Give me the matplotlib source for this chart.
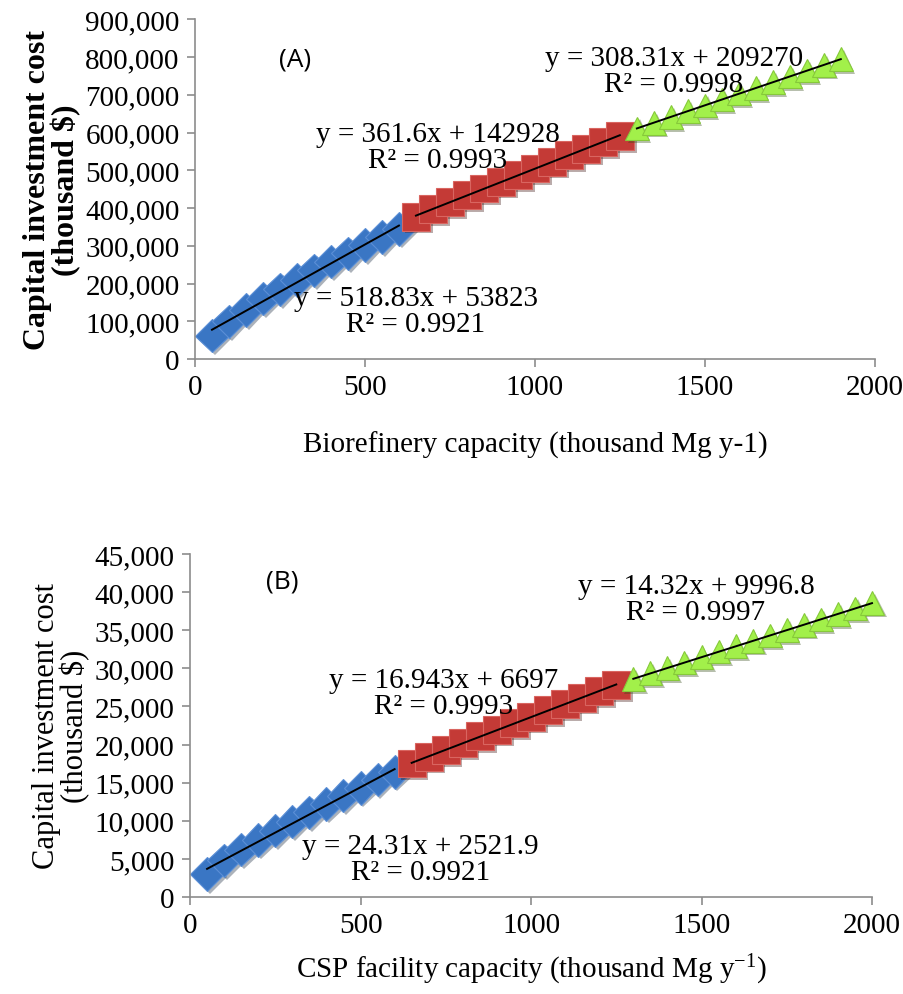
import matplotlib.pyplot as plt
import matplotlib.patheffects as pe
import numpy as np

plt.rcParams['font.family'] = ['Liberation Serif', 'DejaVu Serif']
plt.rcParams['mathtext.fontset'] = 'custom'
plt.rcParams['mathtext.rm'] = 'Liberation Serif'
plt.rcParams['mathtext.default'] = 'regular'

# panel A: biorefinery
a_blue_x = [50, 100, 150, 200, 250, 300, 350, 400, 450, 500, 550, 600]
a_blue_y = [62000, 100000, 130000, 160000, 185000, 210000, 235000, 258000, 280000, 302000, 323000, 345000]
a_red_x = [650, 700, 750, 800, 850, 900, 950, 1000, 1050, 1100, 1150, 1200, 1250]
a_red_y = [377000, 397000, 416000, 434000, 452000, 470000, 488000, 505000, 523000, 540000, 557000, 574000, 591000]
a_green_x = [1300, 1350, 1400, 1450, 1500, 1550, 1600, 1650, 1700, 1750, 1800, 1850, 1900]
a_green_y = [611000, 626000, 641000, 657000, 672000, 687000, 703000, 718000, 733000, 748000, 764000, 779000, 794000]
a_labels = ["y = 518.83x + 53823\nR² = 0.9921",
            "y = 361.6x + 142928\nR² = 0.9993",
            "y = 308.31x + 209270\nR² = 0.9998"]

# panel B: CSP facility
b_blue_x = [50, 100, 150, 200, 250, 300, 350, 400, 450, 500, 550, 600]
b_blue_y = [3000, 4800, 6200, 7500, 8700, 9900, 11100, 12200, 13300, 14300, 15400, 16400]
b_red_x = [650, 700, 750, 800, 850, 900, 950, 1000, 1050, 1100, 1150, 1200, 1250]
b_red_y = [17500, 18400, 19300, 20200, 21100, 21950, 22800, 23650, 24500, 25300, 26150, 27000, 27800]
b_green_x = [1300, 1350, 1400, 1450, 1500, 1550, 1600, 1650, 1700, 1750, 1800, 1850, 1900, 1950, 2000]
b_green_y = [28600, 29350, 30050, 30750, 31450, 32200, 32900, 33600, 34300, 35000, 35700, 36400, 37100, 37850, 38600]
b_labels = ["y = 24.31x + 2521.9\nR² = 0.9921",
            "y = 16.943x + 6697\nR² = 0.9993",
            "y = 14.32x + 9996.8\nR² = 0.9997"]

styles = [
    dict(marker='D', ms=17, mfc='#3A76C4', mec='#5B8FD6', mew=0.8),
    dict(marker='s', ms=20, mfc='#C43A36', mec='#D96560', mew=0.8),
    dict(marker='^', ms=17, mfc='#A2F04A', mec='#86C93A', mew=0.8),
]
shadow = [pe.SimplePatchShadow(offset=(2, -2), alpha=0.35), pe.Normal()]


def draw_panel(ax, series, labels, label_pos, ymax, ystep, xlabel, ylabel, bold, tag, tag_pos, xpad):
    for (x, y), st in zip(series, styles):
        ax.plot(x, y, ls='none', path_effects=shadow, zorder=2, clip_on=False, **st)
    for (x, y) in series:
        k, b = np.polyfit(x, y, 1)
        xs = np.array([x[0], x[-1]])
        ax.plot(xs, k * xs + b, color='black', lw=1.4, zorder=3, clip_on=False)
    for txt, (tx, ty) in zip(labels, label_pos):
        ax.text(tx, ty, txt, ha='center', va='center', multialignment='center',
                fontsize=21, linespacing=1.0, zorder=4)
    ax.text(tag_pos[0], tag_pos[1], tag, ha='center', va='center',
            fontsize=19, family=['Open Sans', 'DejaVu Sans'])
    ax.set_xlim(0, 2000)
    ax.set_ylim(0, ymax)
    ax.set_xticks([0, 500, 1000, 1500, 2000])
    ax.set_yticks(np.arange(0, ymax + 1, ystep))
    ax.yaxis.set_major_formatter(plt.FuncFormatter(lambda v, p: f"{int(v):,}"))
    for s in ['top', 'right']:
        ax.spines[s].set_visible(False)
    for s in ['left', 'bottom']:
        ax.spines[s].set_color('#8C8C8C')
        ax.spines[s].set_linewidth(1.2)
    ax.tick_params(axis='both', direction='out', length=6, color='#8C8C8C', width=1.2,
                   labelsize=21, pad=5)
    ax.set_xlabel(xlabel, fontsize=21, labelpad=xpad)
    ax.set_ylabel(ylabel, fontsize=23 if bold else 22, fontweight='bold' if bold else 'normal',
                  linespacing=0.95, labelpad=3)


fig = plt.figure(figsize=(9.04, 9.95), dpi=100)
ax1 = fig.add_axes([0.2157, 0.638, 0.752, 0.3417])
ax2 = fig.add_axes([0.2102, 0.0975, 0.7544, 0.3447])

draw_panel(ax1, [(a_blue_x, a_blue_y), (a_red_x, a_red_y), (a_green_x, a_green_y)],
           a_labels, [(650, 127000), (715, 561000), (1409, 762000)],
           900000, 100000, "Biorefinery capacity (thousand Mg y-1)",
           "Capital investment cost\n(thousand $)", True, "(A)", (294, 794000), 22)
draw_panel(ax2, [(b_blue_x, b_blue_y), (b_red_x, b_red_y), (b_green_x, b_green_y)],
           b_labels, [(675, 5000), (745, 26770), (1484, 39100)],
           45000, 5000, "CSP facility capacity (thousand Mg y$^{-1}$)",
           "Capital investment cost\n(thousand $)", False, "(B)", (270, 41470), 10)

fig.savefig("out.png", dpi=100)
